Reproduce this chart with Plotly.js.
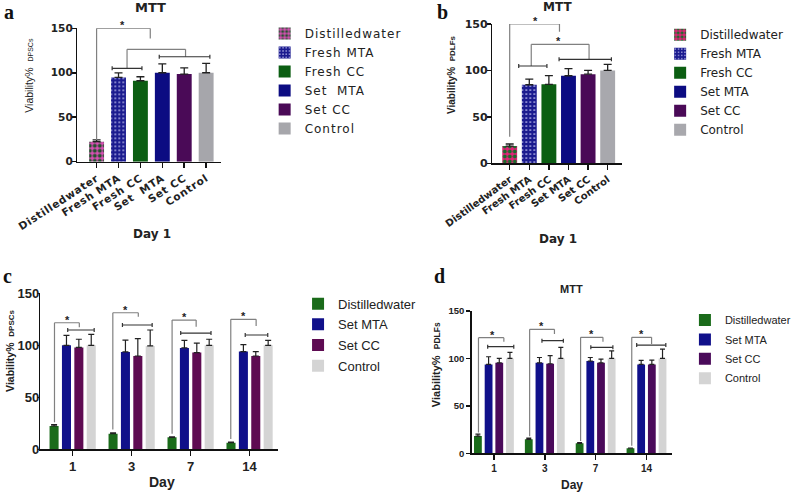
<!DOCTYPE html>
<html><head><meta charset="utf-8">
<script src="https://cdn.plot.ly/plotly-3.0.1.min.js"></script>
<style>
html,body{margin:0;padding:0;background:#fff}
#chart{width:796px;height:492px}
.subplot.xy .xtick text{letter-spacing:0.7px}
.subplot.x2y2 .xtick text{letter-spacing:0.5px}
text.legendtext[style*="Tahoma"]{letter-spacing:1px}
</style>
</head><body><div id="chart"></div>
<script>
// ---------- DATA ----------
// Panel a: DPSCs, Day 1
const groupsA = ['Distilledwater', 'Fresh MTA', 'Fresh CC', 'Set  MTA', 'Set CC', 'Control'];
const meanA = [22.5, 94.8, 91, 100, 98.5, 100];
const errA = [2, 5, 4.5, 10, 7, 10.5];
// Panel b: PDLFs, Day 1
const groupsB = ['Distilledwater', 'Fresh MTA', 'Fresh CC', 'Set MTA', 'Set CC', 'Control'];
const meanB = [18.6, 84.6, 85, 94.3, 96, 100];
const errB = [2.2, 6, 9.5, 7.7, 4, 6.5];
// Panels c and d: days
const days = ['1', '3', '7', '14'];
const seriesCD = ['Distilledwater', 'Set MTA', 'Set CC', 'Control'];
// Panel c: DPSCs
const cDistilled = [22.4, 15, 11.5, 6.4];
const cDistilledErr = [1.3, 0.7, 0.5, 0.5];
const cSetMTA = [100, 93.6, 97.5, 94];
const cSetMTAErr = [9.6, 11.4, 7.3, 6.6];
const cSetCC = [98, 89.7, 93, 89.7];
const cSetCCErr = [7.8, 16.7, 9, 4.3];
const cControl = [100, 99.4, 100, 100];
const cControlErr = [10.6, 15.3, 5.8, 4.8];
// Panel d: PDLFs
const dDistilled = [18.2, 14.7, 10.5, 5.3];
const dDistilledErr = [2.1, 1.3, 0.7, 0.3];
const dSetMTA = [93.7, 95.4, 97.2, 93.7];
const dSetMTAErr = [8.1, 5.6, 3.8, 4.2];
const dSetCC = [95.4, 94.4, 95.4, 93.7];
const dSetCCErr = [4.6, 8.6, 3.9, 4.5];
const dControl = [100, 100, 100, 100];
const dControlErr = [6.3, 11.6, 8, 9.8];
const yTicks = [0, 50, 100, 150];

// ---------- significance brackets (annotation geometry, data coords) ----------
// [legX, legBottom, top, rightX, rightBottom, starX]
const bracketsA = [[0, 24.5, 150, 2.45, 138.6, 1.2], [1.39, 105, 126.4, 4.06, 118, null]];
const linesA = [[0.71, 2.07, 105], [2.86, 5.17, 118]];
const bracketsB = [[0, 28.6, 150, 2.54, 141.7, 1.31], [1.1, 104.8, 128.1, 4.05, 112, 2.48]];
const linesB = [[0.46, 1.9, 104.8], [2.52, 5.19, 112]];
const bracketsC = [[-0.308, 26, 121.7, 0.113, 117.3, -0.084], [0.681, 19, 131.3, 1.113, 127.5, 0.89],
                   [1.686, 15, 124.3, 2.094, 117.9, 1.9], [2.681, 10, 125, 3.111, 118.6, 2.904]];
const linesC = [[-0.084, 0.365, 114.7], [0.844, 1.348, 119.5], [1.832, 2.346, 111.8], [2.926, 3.308, 109.9]];
const bracketsD = [[-0.304, 22, 121.9, 0.195, 117.6, -0.031], [0.702, 18, 130.7, 1.19, 125.7, 0.93],
                   [1.704, 13, 122.2, 2.144, 117.6, 1.92], [2.71, 8, 122.2, 3.1, 115.2, 2.905]];
const linesD = [[-0.123, 0.39, 112.4], [0.944, 1.365, 118.7], [1.905, 2.339, 111.7], [2.807, 3.38, 114.1]];

// ---------- STYLE ----------
const W = 796, H = 492;
const px = v => v / W;
const py = v => 1 - v / H;
const wideFont = 'DejaVu Sans, Verdana, sans-serif';
const wideFontLegendA = 'DejaVu Sans, Tahoma, sans-serif';
const arial = 'Liberation Sans, Arial, Helvetica, sans-serif';
const serif = 'Liberation Serif, Times New Roman, serif';

const stylesA = [
  {color: '#d94fb5', pattern: {shape: '.', fgcolor: '#24512f', bgcolor: '#d94fb5', size: 5, solidity: 0.5, fillmode: 'replace'}},
  {color: '#1b1b8f', pattern: {shape: '.', fgcolor: '#dcdcff', bgcolor: '#1b1b8f', size: 4, solidity: 0.15, fillmode: 'replace'}},
  {color: '#0b5e12'}, {color: '#0c0c82'}, {color: '#4a0a57'}, {color: '#a6a6ab'}
];
const stylesB = [
  {color: '#e8207a', pattern: {shape: '.', fgcolor: '#1d6b2d', bgcolor: '#e8207a', size: 5, solidity: 0.5, fillmode: 'replace'}},
  {color: '#1b1b8f', pattern: {shape: '.', fgcolor: '#dcdcff', bgcolor: '#1b1b8f', size: 4, solidity: 0.15, fillmode: 'replace'}},
  {color: '#0b5e12'}, {color: '#0c0c82'}, {color: '#4a0a57'}, {color: '#a8a8ad'}
];
const colorsC = ['#1a6b1a', '#10108a', '#5e0b52', '#d4d4d4'];
const colorsD = ['#1a6b1a', '#10108a', '#4a0a5a', '#d4d4d4'];

function singleBars(groups, means, errs, styles, xa, ya, lg, og, w, capW) {
  return groups.map((g, i) => ({
    type: 'bar', x: [g], y: [means[i]], name: g, xaxis: xa, yaxis: ya, legend: lg,
    offsetgroup: og, width: w, offset: -w / 2, hoverinfo: 'skip',
    marker: Object.assign({line: {width: 0}}, styles[i]),
    error_y: {type: 'data', symmetric: false, array: [errs[i]], arrayminus: [0], color: '#222', thickness: 1.3, width: capW}
  }));
}
function groupBars(vals, errs, colors, xa, ya, lg, capW) {
  return seriesCD.map((s, i) => ({
    type: 'bar', x: days, y: vals[i], name: s, xaxis: xa, yaxis: ya, legend: lg, legendgroup: lg + s,
    hoverinfo: 'skip', marker: {color: colors[i], line: {width: 0}},
    error_y: {type: 'data', symmetric: false, array: errs[i], arrayminus: days.map(() => 0), color: '#222', thickness: 1.2, width: capW}
  }));
}

const data = [].concat(
  singleBars(groupsA, meanA, errA, stylesA, 'x', 'y', 'legend', 'ga', 0.68, 4),
  singleBars(groupsB, meanB, errB, stylesB, 'x2', 'y2', 'legend2', 'gb', 0.76, 4),
  groupBars([cDistilled, cSetMTA, cSetCC, cControl], [cDistilledErr, cSetMTAErr, cSetCCErr, cControlErr], colorsC, 'x3', 'y3', 'legend3', 3),
  groupBars([dDistilled, dSetMTA, dSetCC, dControl], [dDistilledErr, dSetMTAErr, dSetCCErr, dControlErr], colorsD, 'x4', 'y4', 'legend4', 2.5)
);

function xAxis(d0, d1, anchor, range, angle, font, cats) {
  return {domain: [px(d0), px(d1)], anchor: anchor, type: 'category', categoryorder: 'array', categoryarray: cats,
    range: range, tickangle: angle, tickfont: font, ticks: 'outside', ticklen: 5, tickwidth: 1.5, tickcolor: '#111',
    showline: true, linecolor: '#111', linewidth: 1.5, showgrid: false, zeroline: false, fixedrange: true};
}
function yAxis(b, t, anchor, font, tlen, standoff) {
  return {domain: [py(b), py(t)], anchor: anchor, range: [0, 150], tickvals: yTicks, tickfont: font,
    ticks: 'outside', ticklen: tlen, tickwidth: 1.5, tickcolor: '#111', ticklabelstandoff: standoff,
    showline: true, linecolor: '#111', linewidth: 1.5,
    showgrid: false, zeroline: false, fixedrange: true};
}

const shapes = [];
const annotations = [];
function addBrackets(brs, lines, xr, yr) {
  const br = {color: '#808080', width: 1.2};
  const ln = {color: '#333', width: 1.2};
  brs.forEach(b => {
    const [lx, lb, top, rx, rb, sx] = b;
    shapes.push({type: 'line', xref: xr, yref: yr, x0: lx, x1: lx, y0: lb, y1: top, line: br});
    shapes.push({type: 'line', xref: xr, yref: yr, x0: lx, x1: rx, y0: top, y1: top, line: br});
    shapes.push({type: 'line', xref: xr, yref: yr, x0: rx, x1: rx, y0: top, y1: rb, line: br});
    if (sx !== null) {
      annotations.push({xref: xr, yref: yr, x: sx, y: top, text: '*', showarrow: false, yanchor: 'middle', yshift: 3,
        font: {family: arial, size: 11, weight: 'bold', color: '#222'}});
    }
  });
  lines.forEach(l => {
    const [x0, x1, y] = l;
    shapes.push({type: 'line', xref: xr, yref: yr, x0: x0, x1: x1, y0: y, y1: y, line: ln});
    [x0, x1].forEach(xx => shapes.push({type: 'line', xref: xr, yref: yr, xsizemode: 'scaled', ysizemode: 'pixel',
      yanchor: y, x0: xx, x1: xx, y0: -2, y1: 2, line: ln}));
  });
}
addBrackets(bracketsA, linesA, 'x', 'y');
addBrackets(bracketsB, linesB, 'x2', 'y2');
addBrackets(bracketsC, linesC, 'x3', 'y3');
addBrackets(bracketsD, linesD, 'x4', 'y4');

function txt(text, x, y, font, extra) {
  annotations.push(Object.assign({xref: 'paper', yref: 'paper', x: px(x), y: py(y), text: text, showarrow: false,
    xanchor: 'center', yanchor: 'middle', font: font}, extra || {}));
}
// panel letters
const letterFont = {family: serif, size: 20, weight: 'bold', color: '#111'};
txt('a', 9, 12, letterFont);
txt('b', 446, 12, letterFont);
txt('c', 8, 276, letterFont);
txt('d', 443, 276, letterFont);
// titles
txt('MTT', 152, 8, {family: wideFont, size: 13, weight: 'bold', color: '#222'});
txt('MTT', 562, 7, {family: wideFont, size: 12, weight: 'bold', color: '#222'});
txt('MTT', 577, 289, {family: arial, size: 11, weight: 'bold', color: '#222'});
// y titles
txt("Viability%  <span style='font-size:7px'>DPSCs</span>", 29, 75, {family: arial, size: 10.5, color: '#222'}, {textangle: -90});
txt("Viability%  <span style='font-size:8px'>PDLFs</span>", 455, 74, {family: arial, size: 10, weight: 'bold', color: '#222'}, {textangle: -90});
txt("Viability%  <span style='font-size:8px'>DPSCs</span>", 10, 351, {family: arial, size: 10.5, weight: 'bold', color: '#222'}, {textangle: -90});
txt("Viability%  <span style='font-size:8.5px'>PDLFs</span>", 440, 365, {family: arial, size: 11, weight: 'bold', color: '#222'}, {textangle: -90});
// x titles
txt('Day 1', 153, 234, {family: wideFont, size: 12, weight: 'bold', color: '#222'});
txt('Day 1', 563, 239, {family: wideFont, size: 12, weight: 'bold', color: '#222'});
txt('Day', 163, 482, {family: arial, size: 14, weight: 'bold', color: '#222'});
txt('Day', 577, 485, {family: arial, size: 12, weight: 'bold', color: '#222'});

const layout = {
  width: W, height: H, margin: {l: 0, r: 0, t: 0, b: 0}, paper_bgcolor: '#fff', plot_bgcolor: 'rgba(0,0,0,0)',
  barmode: 'group', bargap: 0.16, bargroupgap: 0.27, showlegend: true,
  xaxis: xAxis(78, 223, 'y', [-0.88, 5.68], -33, {family: wideFont, size: 10.5, weight: 'bold', color: '#222'}, groupsA),
  yaxis: yAxis(161.7, 28.3, 'x', {family: wideFont, size: 10.5, weight: 'bold', color: '#222'}, 4, -3),
  xaxis2: xAxis(496.7, 627.3, 'y2', [-0.886, 5.72], -36, {family: wideFont, size: 10, weight: 'bold', color: '#222'}, groupsB),
  yaxis2: yAxis(163.3, 24, 'x2', {family: wideFont, size: 11, weight: 'bold', color: '#222'}, 4, -3),
  xaxis3: xAxis(40.7, 280, 'y3', [-0.548, 3.474], 0, {family: arial, size: 13, weight: 'bold', color: '#222'}, days),
  yaxis3: yAxis(449.3, 293.3, 'x3', {family: arial, size: 13, weight: 'bold', color: '#222'}, 2, -5),
  xaxis4: xAxis(476, 678.3, 'y4', [-0.435, 3.508], 0, {family: arial, size: 10, weight: 'bold', color: '#222'}, days),
  yaxis4: yAxis(453.3, 311, 'x4', {family: arial, size: 9.5, weight: 'bold', color: '#222'}, 4, 0),
  legend: {x: px(267), y: py(19), xanchor: 'left', yanchor: 'top', font: {family: wideFontLegendA, size: 12, color: '#222'},
    bgcolor: 'rgba(0,0,0,0)', borderwidth: 0, tracegroupgap: 0},
  legend2: {x: px(666), y: py(20.3), xanchor: 'left', yanchor: 'top', font: {family: wideFont, size: 12, color: '#222'},
    bgcolor: 'rgba(0,0,0,0)', borderwidth: 0, tracegroupgap: 0},
  legend3: {x: px(300.7), y: py(288.7), xanchor: 'left', yanchor: 'top', font: {family: arial, size: 13, color: '#222'},
    bgcolor: 'rgba(0,0,0,0)', borderwidth: 0, tracegroupgap: 0.8},
  legend4: {x: px(691), y: py(305.5), xanchor: 'left', yanchor: 'top', font: {family: arial, size: 11, color: '#222'},
    bgcolor: 'rgba(0,0,0,0)', borderwidth: 0, tracegroupgap: 0.4},
  shapes: shapes,
  annotations: annotations
};

Plotly.newPlot('chart', data, layout, {staticPlot: true, displayModeBar: false});
</script>
</body></html>
